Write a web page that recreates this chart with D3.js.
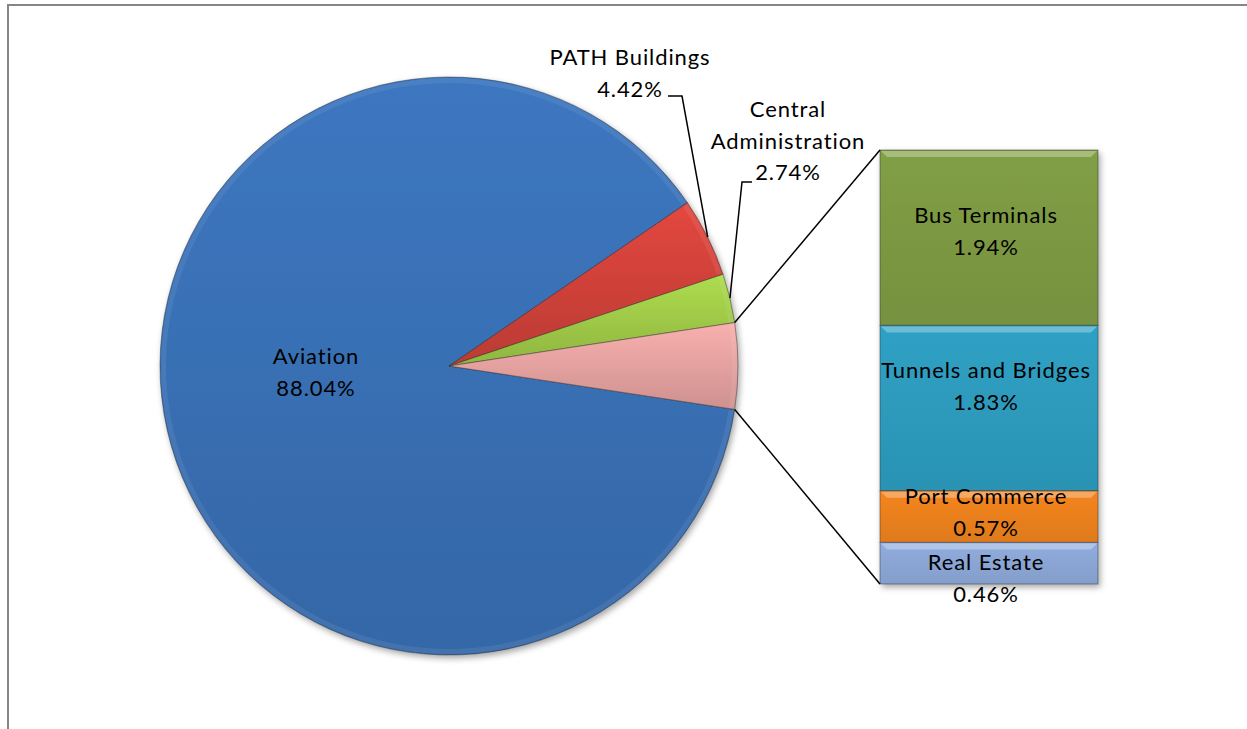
<!DOCTYPE html>
<html>
<head>
<meta charset="utf-8">
<script src="https://cdn.jsdelivr.net/npm/d3@7"></script>
<style>
  html, body { margin: 0; padding: 0; background: #ffffff; }
  svg { display: block; }
  text { font-family: Lato, "Open Sans", "Liberation Sans", sans-serif; font-size: 22px; fill: #000; letter-spacing: 0.9px; }
</style>
</head>
<body>
<svg id="chart" width="1247" height="729"></svg>
<script>
// ---- data ----
const pieCategories = ["Aviation", "PATH Buildings", "Central Administration"];
const pieValues = [88.04, 4.42, 2.74];
const barCategories = ["Bus Terminals", "Tunnels and Bridges", "Port Commerce", "Real Estate"];
const barValues = [1.94, 1.83, 0.57, 0.46];
const pieColors = ["#3a72b8", "#cc4039", "#9cc646", "#e09e9c"];
const barColors = ["#7f9c44", "#2e9ec1", "#f0831f", "#8eaada"];

const svg = d3.select("#chart");

// ---- frame ----
svg.append("rect").attr("x", 8).attr("y", 5).attr("width", 1400).attr("height", 900)
  .attr("fill", "none").attr("stroke", "#868686").attr("stroke-width", 2);

const defs = svg.append("defs");
const shadow = defs.append("filter").attr("id", "shadow")
  .attr("x", "-10%").attr("y", "-10%").attr("width", "130%").attr("height", "130%");
shadow.append("feDropShadow").attr("dx", 2).attr("dy", 3).attr("stdDeviation", 3)
  .attr("flood-color", "#000").attr("flood-opacity", 0.35);

function vGrad(id, c, lightTop, darkBottom) {
  const g = defs.append("linearGradient").attr("id", id)
    .attr("x1", 0).attr("y1", 0).attr("x2", 0).attr("y2", 1);
  g.append("stop").attr("offset", "0%").attr("stop-color", d3.color(c).brighter(lightTop));
  g.append("stop").attr("offset", "100%").attr("stop-color", d3.color(c).darker(darkBottom));
}

// ---- pie ----
const cx = 449, cy = 366, R = 289;
const otherValue = d3.sum(barValues);
const pieData = pieCategories.map((c, i) => ({ name: c, value: pieValues[i], color: pieColors[i] }))
  .concat([{ name: "Other", value: otherValue, color: pieColors[3] }]);
const total = d3.sum(pieData, d => d.value);
const otherAngle = otherValue / total * 2 * Math.PI;
const start = Math.PI / 2 + otherAngle / 2;

const pie = d3.pie().sort(null).value(d => d.value)
  .startAngle(start).endAngle(start + 2 * Math.PI);
const arcs = pie(pieData);
const arc = d3.arc().innerRadius(0).outerRadius(R);

pieData.forEach((d, i) => vGrad("pg" + i, d.color, i === 0 ? 0.12 : 0.3, i === 0 ? 0.28 : 0.25));

const pieG = svg.append("g").attr("transform", `translate(${cx},${cy})`);
pieG.append("g").attr("filter", "url(#shadow)")
  .selectAll("path").data(arcs).join("path")
  .attr("d", arc)
  .attr("fill", (d, i) => `url(#pg${i})`)
  .attr("stroke", "rgba(40,40,40,0.45)").attr("stroke-width", 1);

// soft bevel highlight along the rim
const bevel = d3.arc().innerRadius(R - 6).outerRadius(R - 1);
pieG.append("g").selectAll("path").data(arcs).join("path")
  .attr("d", d => bevel({ startAngle: d.startAngle + 0.004, endAngle: d.endAngle - 0.004 }))
  .attr("fill", "#ffffff").attr("opacity", 0.07);

// ---- bar of pie ----
const barX0 = 880, barX1 = 1098, barY0 = 150, barY1 = 584;
const yScale = d3.scaleLinear().domain([0, otherValue]).range([barY0, barY1]);
const stackData = [];
let acc = 0;
barCategories.forEach((c, i) => { stackData.push({ name: c, value: barValues[i], y0: acc, y1: acc + barValues[i], color: barColors[i] }); acc += barValues[i]; });
stackData.forEach((d, i) => vGrad("bg" + i, d.color, 0.05, 0.2));

const barG = svg.append("g");
barG.append("g").attr("filter", "url(#shadow)")
  .selectAll("rect").data(stackData).join("rect")
  .attr("x", barX0).attr("width", barX1 - barX0)
  .attr("y", d => yScale(d.y0)).attr("height", d => yScale(d.y1) - yScale(d.y0))
  .attr("fill", (d, i) => `url(#bg${i})`)
  .attr("stroke", "rgba(40,40,40,0.45)").attr("stroke-width", 1);
barG.append("g").selectAll("path").data(stackData).join("path")
  .attr("d", d => {
    const y = yScale(d.y0), x0 = barX0 + 1, x1 = barX1 - 1, b = 6;
    return `M${x0},${y + 1}L${x1},${y + 1}L${x1 - b},${y + 1 + b}L${x0 + b},${y + 1 + b}Z`;
  })
  .attr("fill", "#ffffff").attr("opacity", 0.3);

// ---- connector lines ----
const otherArc = arcs[3];
const pTop = [cx + Math.sin(otherArc.startAngle) * R, cy - Math.cos(otherArc.startAngle) * R];
const pBot = [cx + Math.sin(otherArc.endAngle) * R, cy - Math.cos(otherArc.endAngle) * R];
svg.append("line").attr("x1", pTop[0]).attr("y1", pTop[1]).attr("x2", barX0).attr("y2", yScale(0))
  .attr("stroke", "#000").attr("stroke-width", 1.5);
svg.append("line").attr("x1", pBot[0]).attr("y1", pBot[1]).attr("x2", barX0).attr("y2", yScale(otherValue))
  .attr("stroke", "#000").attr("stroke-width", 1.5);

// ---- labels ----
const pct = v => v.toFixed(2) + "%";
function label(x, y, lines) {
  const t = svg.append("text").attr("text-anchor", "middle").attr("x", x).attr("y", y);
  lines.forEach((l, i) => t.append("tspan").attr("x", x).attr("dy", i === 0 ? 0 : 31.5).text(l));
  return t;
}
label(316, 364, [pieCategories[0], pct(pieValues[0])]);
label(630, 65, [pieCategories[1], pct(pieValues[1])]);
label(788, 117, ["Central", "Administration", pct(pieValues[2])]);

const rimPt = a => { const m = (a.startAngle + a.endAngle) / 2; return [cx + Math.sin(m) * R, cy - Math.cos(m) * R]; };
const pathEnd = rimPt(arcs[1]);
svg.append("path").attr("d", `M668,96L682,96L${pathEnd[0]},${pathEnd[1]}`)
  .attr("fill", "none").attr("stroke", "#000").attr("stroke-width", 1.5);
const caEnd = rimPt(arcs[2]);
svg.append("path").attr("d", `M752,182L742,182L${caEnd[0]},${caEnd[1]}`)
  .attr("fill", "none").attr("stroke", "#000").attr("stroke-width", 1.5);

const barLabelY = [223, 378, 504, 570];
stackData.forEach((d, i) => label(986, barLabelY[i], [d.name, pct(d.value)]));
</script>
</body>
</html>
